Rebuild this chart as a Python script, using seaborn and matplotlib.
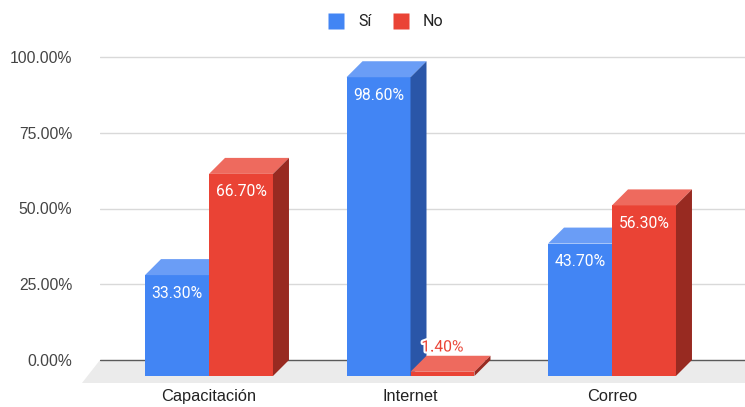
import matplotlib
matplotlib.use("Agg")
import matplotlib.pyplot as plt
import seaborn as sns
import pandas as pd
from matplotlib.patches import Polygon
from matplotlib.lines import Line2D
import matplotlib.patheffects as pe

categories = ["Capacitación", "Internet", "Correo"]
series_names = ["Sí", "No"]
si_values = [33.3, 98.6, 43.7]
no_values = [66.7, 1.4, 56.3]
y_ticks = [0, 25, 50, 75, 100]

front_colors = {"Sí": "#4285F4", "No": "#EA4335"}
top_colors = {"Sí": "#6A9DF6", "No": "#EE6A5E"}
side_colors = {"Sí": "#2A56A8", "No": "#982A21"}

df = pd.DataFrame({
    "Categoría": categories * 2,
    "Serie": [series_names[0]] * len(categories) + [series_names[1]] * len(categories),
    "Valor": si_values + no_values,
})

sns.set_theme(style="white")
plt.rcParams["font.family"] = ["Liberation Sans", "DejaVu Sans"]

W, H = 745, 407
fig = plt.figure(figsize=(W / 100, H / 100), dpi=100)
ax_left, ax_right, ax_top, ax_bottom = 100, 745, 50, 385
ax = fig.add_axes([ax_left / W, 1 - ax_bottom / H, (ax_right - ax_left) / W, (ax_bottom - ax_top) / H])

sns.barplot(data=df, x="Categoría", y="Valor", hue="Serie", order=categories,
            hue_order=series_names, palette=front_colors, width=0.635, saturation=1,
            legend=False, linewidth=0, ax=ax, errorbar=None)

# axis scaling: category 0 at px 209, 201.5 px per category; 0% at px 360, 100% at px 57
px_x = 201.5
px_y = (360 - 57) / 100.0
xl = (ax_left - 209) / px_x
xr = (ax_right - 209) / px_x
yb = -(ax_bottom - 360) / px_y
yt = 100 + (57 - ax_top) / px_y
ax.set_xlim(xl, xr)
ax.set_ylim(yb, yt)

depth = 16
dx = depth / px_x
dy = depth / px_y

# floor
fdy = 23 / px_y
fdx = 18 / px_x
floor = Polygon([(xl, 0), (xr + 1, 0), (xr + 1 - fdx, -fdy), (xl - fdx, -fdy)],
                closed=True, facecolor="#EBEBEB", edgecolor="none", zorder=0.8, clip_on=False)
ax.add_patch(floor)

# grid & baseline
for t in y_ticks[1:]:
    ax.axhline(t, color="#D9D9D9", lw=1, zorder=0.9)
ax.axhline(0, color="#5A5A5A", lw=1, zorder=1)

for i, (name, cont) in enumerate(zip(series_names, ax.containers)):
    z = 3 + i
    for bar in cont:
        x = bar.get_x()
        w = bar.get_width()
        h = bar.get_height()
        bar.set_y(-dy)
        bar.set_zorder(z)
        top = Polygon([(x, h - dy), (x + w, h - dy), (x + w + dx, h), (x + dx, h)],
                      closed=True, facecolor=top_colors[name], edgecolor="none", zorder=z)
        side = Polygon([(x + w, -dy), (x + w, h - dy), (x + w + dx, h), (x + w + dx, 0)],
                       closed=True, facecolor=side_colors[name], edgecolor="none", zorder=z)
        ax.add_patch(top)
        ax.add_patch(side)
        label = f"{h:.2f}%"
        cx = x + w / 2
        if h > 10:
            ax.text(cx, h - dy - 18 / px_y, label, ha="center", va="center", color="white",
                    fontsize=11.3, family=["Roboto", "DejaVu Sans"], zorder=10)
        else:
            t = ax.text(cx, h + 2.9, label, ha="center", va="center", color="#EA4335",
                        fontsize=11.3, family=["Roboto", "DejaVu Sans"], zorder=10)
            t.set_path_effects([pe.withStroke(linewidth=3, foreground="white")])

for s in ax.spines.values():
    s.set_visible(False)

ax.set_yticks(y_ticks)
ax.set_yticklabels([f"{v:.2f}%" for v in y_ticks])
ax.tick_params(axis="y", length=0, pad=20, labelsize=11.3, labelcolor="#444444")
ax.tick_params(axis="x", length=0, pad=3, labelsize=11.8, labelcolor="#222222")
ax.set_xlabel("")
ax.set_ylabel("")

handles = [Line2D([0], [0], marker="s", linestyle="none", markersize=11.5,
                  markerfacecolor=front_colors[n], markeredgecolor="none") for n in series_names]
fig.legend(handles, series_names, loc="center", bbox_to_anchor=(382 / W, 1 - 22 / H),
           ncol=2, frameon=False, handletextpad=0.4, columnspacing=0.8,
           labelcolor="#222222", prop={"family": ["Roboto", "DejaVu Sans"], "size": 11.5})

fig.savefig("out.png", dpi=100)
